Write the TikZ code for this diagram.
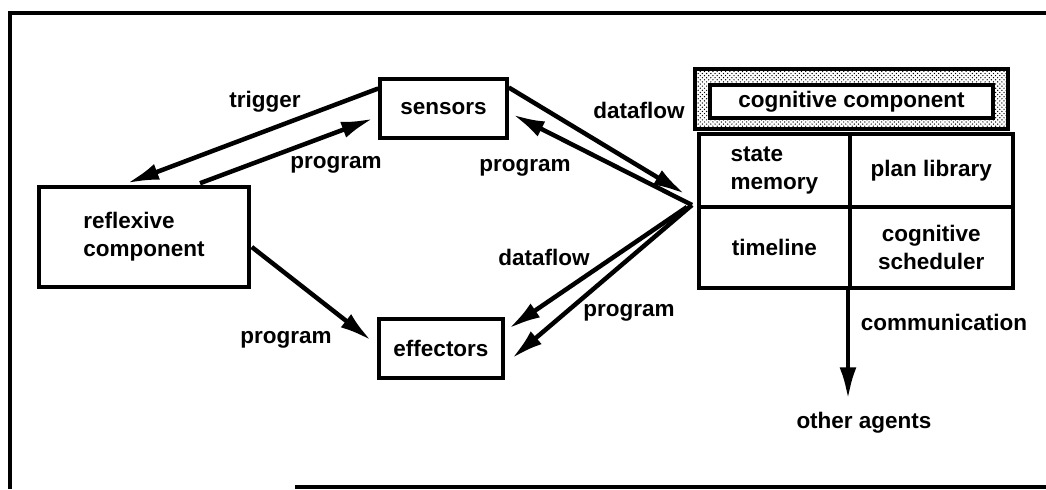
\documentclass[tikz,border=0pt]{standalone}
\usepackage{fontspec}
\setmainfont{Liberation Sans}
\usetikzlibrary{calc, patterns, arrows.meta}

\begin{document}
\begin{tikzpicture}[
    x=0.025cm, y=-0.025cm,
    font=\fontsize{16}{20}\selectfont\bfseries,
    >={Latex[length=0.8cm, width=0.42cm]},
    box/.style={draw, line width=2.5pt, inner sep=0pt, align=left},
    flow/.style={->, line width=3.2pt}
]

    \useasboundingbox (0,0) rectangle (1046,489);

    % 1. Frame
    \draw[line width=2.5pt] (1046,13) -- (10,13) -- (10,489);
    \draw[line width=2.5pt] (295,487) -- (1046,487);

    % 2. Sensors, effectors and reflexive component
    \node[box, minimum width=3.175cm, minimum height=1.475cm] (sensors) at (443.5,108.5) {sensors};
    \node[box, minimum width=3.1cm, minimum height=1.475cm] (effectors) at (441,348.5) {effectors};
    \node[box, minimum width=5.25cm, minimum height=2.5cm] (reflexive) at (144,237) {reflexive\hspace{1em}\\component\hspace{1em}};

    % 3. Cognitive component
    \node[box, pattern=crosshatch dots, pattern color=black, minimum width=7.825cm, minimum height=1.5cm] (cogframe) at (851.5,99) {};
    \node[box, fill=white, minimum width=7.075cm, minimum height=0.825cm] (cognitive) at (851.5,101.5) {cognitive component};

    \node[box, anchor=north west, minimum width=3.775cm, minimum height=1.825cm] (statemem) at (697,132) {state\\memory};
    \node[box, anchor=north west, minimum width=4.075cm, minimum height=1.825cm] (planlib) at (848,132) {plan library};
    \node[box, anchor=north west, minimum width=3.775cm, minimum height=2.025cm] (timeline) at (697,205) {timeline};
    \node[box, anchor=north west, minimum width=4.075cm, minimum height=2.025cm, align=center] (sched) at (848,205) {cognitive\\scheduler};

    \node (others) at (864,423) {other agents};

    % 4. Meeting point of the flows on the right
    \coordinate (hub) at (692,205);
    \coordinate (hubin) at (685,194);

    % 5. Flows
    \draw[flow] ($(sensors.west)+(0,-20)$) -- ($(reflexive.north)+(-17,-2)$);
    \draw[flow] ($(reflexive.north)+(56,-2)$) -- ($(sensors.west)+(-5,10)$);
    \draw[flow] ($(sensors.east)+(0,-21)$) -- (hubin);
    \draw[flow] (hub) -- ($(sensors.east)+(4,6)$);
    \draw[flow] ($(hub)+(-5,2)$) -- ($(effectors.east)+(4,-20)$);
    \draw[flow] (hub) -- ($(effectors.east)+(7,10)$);
    \draw[flow] ($(reflexive.east)+(1,10)$) -- ($(effectors.west)+(-6,-8)$);
    \draw[flow] (sched.south west) -- ($(others.north)+(-16,-8)$);

    % 6. Labels
    \node at (265,102) {trigger};
    \node at (336,165) {program};
    \node at (639,110) {dataflow};
    \node at (525,168) {program};
    \node at (544,257) {dataflow};
    \node at (629,313) {program};
    \node at (286,340) {program};
    \node at (944,322) {communication};

\end{tikzpicture}
\end{document}
